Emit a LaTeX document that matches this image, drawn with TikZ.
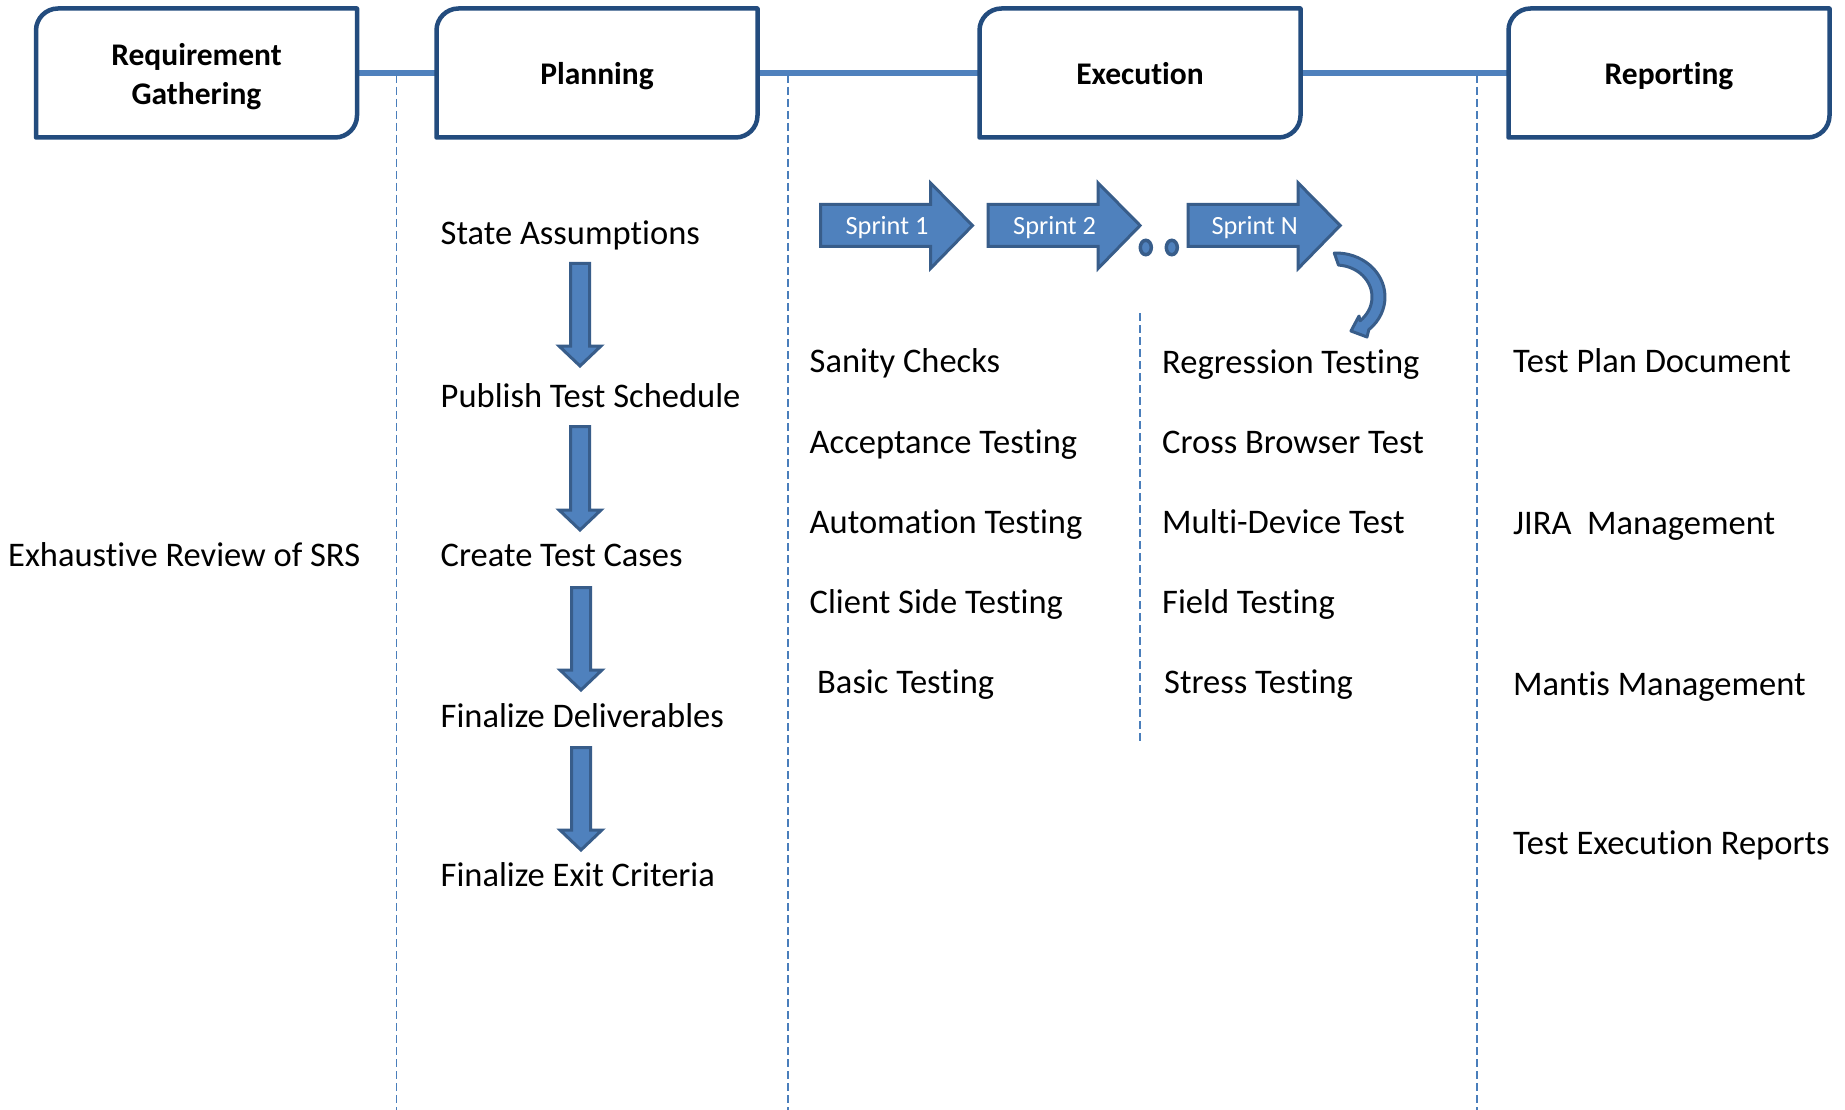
\documentclass[tikz,border=0pt]{standalone}
\usepackage{fontspec}
\setmainfont{Carlito}[Ligatures=NoCommon]
\usetikzlibrary{calc}
\definecolor{hdrblue}{HTML}{234C7E}
\definecolor{linkblue}{HTML}{4F81BD}
\definecolor{arrfill}{HTML}{4F81BD}
\definecolor{arrdraw}{HTML}{385D8A}
\definecolor{dashblue}{HTML}{4A7EBB}
\tikzset{
 hdrbox/.style={minimum width=321pt, minimum height=129pt, inner sep=0pt, outer sep=0pt},
 hdrtext/.style={anchor=base, inner sep=0pt, font=\fontsize{31.5}{39}\selectfont\bfseries},
 frame/.style={draw=hdrblue, line width=4.5pt, line join=round},
 conn/.style={draw=linkblue, line width=6pt},
 vdash/.style={draw=dashblue, line width=1.8pt, dash pattern=on 8pt off 4pt},
 body/.style={anchor=base west, inner sep=0pt, font=\fontsize{34.5}{40}\selectfont},
 arrowshape/.style={fill=arrfill, draw=arrdraw, line width=3pt, line join=miter},
 dotshape/.style={fill=arrfill, draw=arrdraw, line width=3.5pt},
 sprinttext/.style={anchor=base, inner sep=0pt, text=white, font=\fontsize{26.3}{30}\selectfont},
}
\newcommand{\hdrframe}[1]{\draw[frame] (#1.south west) -- ([yshift=-22pt]#1.north west) arc[start angle=180,end angle=90,radius=22pt] -- (#1.north east) -- ([yshift=22pt]#1.south east) arc[start angle=0,end angle=-90,radius=22pt] -- cycle;}
\newcommand{\sprintshape}[1]{\filldraw[arrowshape] (#1+1.5,-204.5) -- (#1+111.5,-204.5) -- (#1+111.5,-183) -- (#1+153.5,-225.5) -- (#1+111.5,-268.5) -- (#1+111.5,-246.5) -- (#1+1.5,-246.5) -- cycle;}
\newcommand{\downshape}[3]{\filldraw[arrowshape] (#1-9.5,-#2-1.5) -- (#1+9.5,-#2-1.5) -- (#1+9.5,-#3+22) -- (#1+21,-#3+22) -- (#1,-#3+2) -- (#1-21,-#3+22) -- (#1-9.5,-#3+22) -- cycle;}
\begin{document}
\begin{tikzpicture}[x=1pt,y=1pt]
\fill[white] (0,0) rectangle (1845,-1110);
\useasboundingbox (0,0) rectangle (1845,-1110);

% header boxes
\node[hdrbox] (rg) at (196.5,-73) {};
\node[hdrbox] (pl) at (597,-73) {};
\node[hdrbox] (ex) at (1140,-73) {};
\node[hdrbox] (rp) at (1669,-73) {};

% connectors between headers
\draw[conn] (rg.east) -- (pl.west);
\draw[conn] (pl.east) -- (ex.west);
\draw[conn] (ex.east) -- (rp.west);

\hdrframe{rg}
\hdrframe{pl}
\hdrframe{ex}
\hdrframe{rp}

% header texts
\node[hdrtext] (rgt1) at (196.5,-65.5) {Requirement};
\node[hdrtext] (rgt2) at (196.5,-104.5) {Gathering};
\node[hdrtext] (plt) at (597,-84.5) {Planning};
\node[hdrtext] (ext) at (1140,-84.5) {Execution};
\node[hdrtext] (rpt) at (1669,-84.5) {Reporting};

% dashed column separators
\coordinate (d1t) at (396.5,-75);  \coordinate (d1b) at (396.5,-1110);
\coordinate (d2t) at (788,-75);    \coordinate (d2b) at (788,-1110);
\coordinate (d3t) at (1477,-75);   \coordinate (d3b) at (1477,-1110);
\coordinate (d4t) at (1140,-313);  \coordinate (d4b) at (1140,-741);
\draw[vdash] (d1t) -- (d1b);
\draw[vdash] (d2t) -- (d2b);
\draw[vdash] (d3t) -- (d3b);
\draw[vdash] (d4t) -- (d4b);

% requirement column
\node[body] (srs) at (8,-566) {Exhaustive Review of SRS};

% planning column
\node[body] (p1) at (440.5,-245) {State Assumptions};
\node[body] (p2) at (440.5,-407.5) {Publish Test Schedule};
\node[body] (p3) at (440.5,-566.5) {Create Test Cases};
\node[body] (p4) at (440.5,-727) {Finalize Deliverables};
\node[body] (p5) at (440.5,-886) {Finalize Exit Criteria};
\downshape{580}{262}{368}
\downshape{580}{425}{532}
\downshape{581}{586}{692}
\downshape{581}{746}{852}

% sprint arrows
\sprintshape{819}
\sprintshape{986.6}
\sprintshape{1186.7}
\node[sprinttext] (s1) at (887,-235) {Sprint 1};
\node[sprinttext] (s2) at (1054.6,-235) {Sprint 2};
\node[sprinttext] (sN) at (1254.7,-235) {Sprint N};
\filldraw[dotshape] (1145.8,-247.5) ellipse [x radius=5.5, y radius=7.2];
\filldraw[dotshape] (1171.8,-247.5) ellipse [x radius=5.5, y radius=7.2];

% curved arrow
\coordinate (cc) at (1336,-297);
\filldraw[arrowshape, line join=round] ($(cc)+(92:49 and 44)$) arc[start angle=92, end angle=-48, x radius=49, y radius=44] -- (1367,-337) -- (1351,-331) -- (1359,-316) -- ($(cc)+(-48:36 and 32)$) arc[start angle=-48, end angle=86, x radius=36, y radius=32] -- cycle;

% execution columns
\node[body] (e1) at (809.5,-372) {Sanity Checks};
\node[body] (e2) at (809.5,-453) {Acceptance Testing};
\node[body] (e3) at (809.5,-533) {Automation Testing};
\node[body] (e4) at (809.5,-613) {Client Side Testing};
\node[body] (e5) at (817,-693) {Basic Testing};
\node[body] (f1) at (1162,-373.5) {Regression Testing};
\node[body] (f2) at (1162,-453) {Cross Browser Test};
\node[body] (f3) at (1162,-533) {Multi-Device Test};
\node[body] (f4) at (1162,-613) {Field Testing};
\node[body] (f5) at (1164,-693) {Stress Testing};

% reporting column
\node[body] (r1) at (1513,-372) {Test Plan Document};
\node[body] (r2) at (1513,-534) {JIRA\ \ Management};
\node[body] (r3) at (1513,-695) {Mantis Management};
\node[body] (r4) at (1513,-854.5) {Test Execution Reports};
\end{tikzpicture}
\end{document}
